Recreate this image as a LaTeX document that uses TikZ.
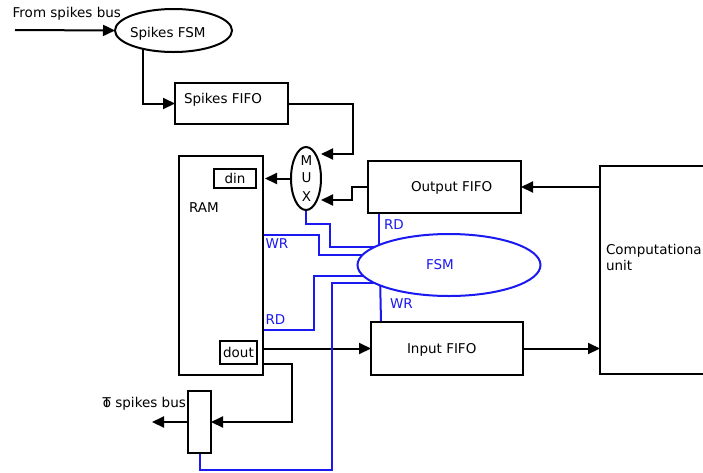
\documentclass[tikz,border=0pt]{standalone}
\usepackage{fontspec}
\setmainfont{DejaVu Sans}
\usetikzlibrary{arrows.meta,shapes.geometric,calc}
\pgfdeclarelayer{bg}
\pgfsetlayers{bg,main}
\definecolor{fsmblue}{RGB}{25,25,240}
\begin{document}
\begin{tikzpicture}[x=1pt,y=-1pt,
  every node/.style={font=\fontsize{13.5}{16.5}\selectfont, inner sep=0pt, outer sep=0pt},
  box/.style={draw, line width=2pt, fill=white, rectangle},
  ell/.style={draw, line width=2pt, fill=white, ellipse},
  conn/.style={line width=2pt, -{Triangle[length=12pt,width=11pt]}},
  bw/.style={line width=2pt, draw=fsmblue},
  lbl/.style={anchor=base west},
  mlbl/.style={anchor=base},
  blbl/.style={anchor=base west, text=fsmblue}]
\useasboundingbox (0,0) rectangle (703,472);
\clip (0,0) rectangle (703,472);
% nodes
\node[lbl] (fromT) at (12.7,17) {From spikes bus};
\node[ell, minimum width=117pt, minimum height=43pt] (sfsm) at (173.5,30.5) {};
\node[lbl] (sfsmT) at (130,37) {Spikes FSM};
\node[box, minimum width=113pt, minimum height=41pt] (sfifo) at (231.5,103.5) {};
\node[lbl] (sfifoT) at (184,103) {Spikes FIFO};
\node[box, minimum width=84pt, minimum height=219pt] (ram) at (221,265.5) {};
\node[lbl] (ramT) at (189,212) {RAM};
\node[box, minimum width=42pt, minimum height=19pt] (din) at (235,178.5) {din};
\node[box, minimum width=37pt, minimum height=23pt] (dout) at (238.5,352.5) {dout};
\node[ell, minimum width=30pt, minimum height=63pt] (mux) at (306,178.5) {};
\node[mlbl] (muxM) at (306.5,165) {M};
\node[mlbl] (muxU) at (306.5,182.7) {U};
\node[mlbl] (muxX) at (306.5,201) {X};
\node[box, minimum width=153pt, minimum height=52pt] (ofifo) at (444.5,187) {};
\node[lbl] (ofifoT) at (411,191) {Output FIFO};
\node[box, minimum width=106pt, minimum height=208pt] (comp) at (653,270) {};
\node[lbl] (compT1) at (606,254) {Computationa};
\node[lbl] (compT2) at (606,270.7) {unit};
\node[box, minimum width=152pt, minimum height=53pt] (ififo) at (447,348.5) {};
\node[lbl] (ififoT) at (407,353) {Input FIFO};
\node[ell, draw=fsmblue, minimum width=183pt, minimum height=62pt] (fsm) at (449,265) {};
\node[blbl] (fsmT) at (426,269) {FSM};
\node[lbl] (toT) at (102.7,407) {T\kern-0.6em o spikes bus};
\node[box, minimum width=23pt, minimum height=62pt] (omux) at (199.5,422) {};
% blue labels
\node[blbl] (rdO) at (384,229.5) {RD};
\node[blbl] (wrI) at (390,308) {WR};
\node[blbl] (wrR) at (265.5,248.5) {WR};
\node[blbl] (rdR) at (265.5,324) {RD};
% connectors
\begin{pgfonlayer}{bg}
\coordinate (inS) at (15,30);
\draw[conn] (inS) -- (sfsm.west);
\draw[conn] ($(sfsm.center)+(-30.5,10)$) |- (sfifo.west);
\draw[conn] (sfifo.east) -| ($(mux.east)+(32,-24.5)$) -- ($(mux.east)+(0,-24.5)$);
\draw[conn] (ofifo.west) -- ++(-16,0) |- ($(mux.east)+(0,21.5)$);
\draw[conn] (mux.west) -- ($(ram.east |- mux.west)+(2,0)$);
\draw[conn] (comp.west |- ofifo.east) -- (ofifo.east);
\draw[conn] (ififo.east) -- (comp.west |- ififo.east);
\draw[conn] (ram.east |- ififo.west) -- (ififo.west);
\draw[conn] ($(ram.east)+(0,98.5)$) -- ++(29,0) |- (omux.east);
\draw[conn] (omux.west) -- ++(-36,0) coordinate (outS);
% blue
\draw[bw] ($(ofifo.south west)+(11,0)$) -- ++(0,40);
\draw[bw] ($(fsm.center)+(-69,10)$) -- ($(ififo.north west)+(10,0)$);
\draw[bw] (mux.south) |- (330,224) |- ($(fsm.center)+(-50,-18)$);
\draw[bw] (ram.east |- 0,235) -| (319,255) -- ($(fsm.center)+(-50,-10)$);
\draw[bw] (ram.east |- 0,330) -| (314,276) -- ($(fsm.center)+(-50,11)$);
\draw[bw] ($(fsm.center)+(-50,18)$) -| (332,470) -| (omux.south);
\end{pgfonlayer}
\end{tikzpicture}
\end{document}
